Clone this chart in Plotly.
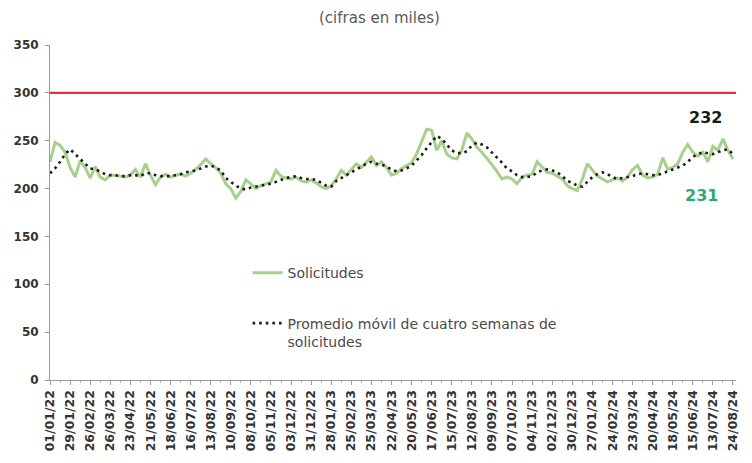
import plotly.graph_objects as go

# ---- data (thousands) ----
tick_labels = ["01/01/22", "29/01/22", "26/02/22", "26/03/22", "23/04/22", "21/05/22",
               "18/06/22", "16/07/22", "13/08/22", "10/09/22", "08/10/22", "05/11/22",
               "03/12/22", "31/12/22", "28/01/23", "25/02/23", "25/03/23", "22/04/23",
               "20/05/23", "17/06/23", "15/07/23", "12/08/23", "09/09/23", "07/10/23",
               "04/11/23", "02/12/23", "30/12/23", "27/01/24", "24/02/24", "23/03/24",
               "20/04/24", "18/05/24", "15/06/24", "13/07/24", "24/08/24"]

solicitudes = [228, 248, 245, 238, 222, 212, 229, 222, 211, 223, 212, 209, 214, 214, 213, 212,
               214, 220, 212, 226, 214, 204, 212, 215, 212, 214, 215, 213, 216, 220, 225, 231,
               226, 222, 216, 205, 200, 190, 197, 209, 205, 200, 203, 205, 207, 219, 213, 211,
               210, 212, 208, 207, 209, 206, 202, 200, 203, 210, 219, 214, 220, 226, 222, 228,
               233, 224, 228, 222, 214, 216, 221, 224, 227, 236, 250, 262, 261, 240, 250, 236,
               232, 231, 240, 258, 252, 243, 238, 232, 225, 218, 210, 212, 210, 205, 212, 214,
               215, 228, 222, 217, 216, 213, 210, 203, 200, 198, 210, 226, 220, 213, 210, 207,
               209, 211, 208, 212, 220, 224, 214, 211, 212, 215, 232, 220, 222, 226, 238, 246,
               238, 234, 238, 228, 244, 240, 252, 240, 231]

promedio_movil = [216, 221, 228, 236, 241, 236, 231, 226, 221, 220, 218, 215, 214, 214, 213, 213,
                  214, 214, 213, 216, 216, 214, 213, 213, 213, 214, 215, 217, 218, 219, 221, 223,
                  224, 222, 219, 211, 207, 203, 200, 199, 201, 202, 203, 204, 205, 207, 209, 211,
                  212, 213, 211, 210, 210, 209, 206, 203, 202, 208, 211, 214, 217, 220, 223, 226,
                  228, 226, 225, 223, 220, 218, 219, 221, 224, 229, 235, 242, 249, 255, 252, 246,
                  240, 237, 237, 239, 245, 248, 246, 243, 238, 232, 227, 221, 218, 214, 212, 212,
                  213, 217, 219, 220, 219, 217, 213, 208, 206, 203, 202, 207, 212, 215, 217, 215,
                  212, 210, 211, 212, 213, 215, 216, 215, 214, 214, 216, 218, 220, 222, 224, 228,
                  233, 236, 238, 237, 236, 238, 240, 241, 236]

umbral = 300
ultimo_solicitudes = 231
ultimo_promedio = 232

weeks = list(range(len(solicitudes)))
tick_positions = list(range(0, 4 * (len(tick_labels) - 1), 4)) + [len(solicitudes) - 1]

LEG_FONT = dict(family="DejaVu Sans, sans-serif", size=14, color="#4a4a4a")

fig = go.Figure()

fig.add_trace(go.Scatter(
    x=weeks, y=solicitudes, mode="lines", name="Solicitudes",
    line=dict(color="#a6d18c", width=3), legend="legend"))

fig.add_trace(go.Scatter(
    x=weeks, y=promedio_movil, mode="lines",
    name="Promedio móvil de cuatro semanas de<br>solicitudes",
    line=dict(color="#1c1c1c", width=2.6, dash="2.6px,4px"), legend="legend2"))

fig.add_shape(type="line", xref="paper", x0=0, x1=1, yref="y", y0=umbral, y1=umbral,
              line=dict(color="#e2323f", width=2.2), layer="above")

fig.add_annotation(x=130.6, y=274.6, xref="x", yref="y", text=f"<b>{ultimo_promedio}</b>",
                   showarrow=False, font=dict(family="DejaVu Sans, sans-serif", size=16, color="#1a1a1a"))
fig.add_annotation(x=129.8, y=193, xref="x", yref="y", text=f"<b>{ultimo_solicitudes}</b>",
                   showarrow=False, font=dict(family="DejaVu Sans, sans-serif", size=16, color="#2fa872"))

fig.add_annotation(x=0.48, y=1.0 + (45 - 18) / 341.0, xref="paper", yref="paper", yanchor="middle",
                   text="(cifras en miles)", showarrow=False,
                   font=dict(family="DejaVu Sans, sans-serif", size=15, color="#5a5a5a"))

fig.update_layout(
    width=752, height=463,
    margin=dict(l=50, r=15, t=45, b=77),
    paper_bgcolor="white", plot_bgcolor="white",
    showlegend=True,
    legend=dict(x=0.288, y=0.3186, xanchor="left", yanchor="middle",
                bgcolor="rgba(0,0,0,0)", font=LEG_FONT),
    legend2=dict(x=0.288, y=0.1416, xanchor="left", yanchor="middle", valign="top",
                 bgcolor="rgba(0,0,0,0)", font=LEG_FONT),
    xaxis=dict(
        range=[0, 136.6], tickmode="array", tickvals=tick_positions, ticktext=tick_labels,
        tickangle=-90, showgrid=False, zeroline=False,
        showline=True, linecolor="#9a9a9a", linewidth=1,
        ticks="outside", ticklen=4, tickcolor="#9a9a9a",
        minor=dict(tickmode="linear", tick0=0, dtick=2, ticks="outside", ticklen=2,
                   tickcolor="#b0b0b0"),
        tickfont=dict(family="DejaVu Sans, sans-serif", size=12.5, color="#333333", weight="bold"),
    ),
    yaxis=dict(
        range=[0, 350], dtick=50, showgrid=False, zeroline=False,
        showline=True, linecolor="#9a9a9a", linewidth=1,
        ticks="outside", ticklen=4, tickcolor="#9a9a9a", ticklabelstandoff=4,
        tickfont=dict(family="DejaVu Sans, sans-serif", size=12, color="#333333", weight="bold"),
    ),
)

fig.write_html("out.html", config={"displayModeBar": False},
               post_script="document.body.style.margin='0';")
